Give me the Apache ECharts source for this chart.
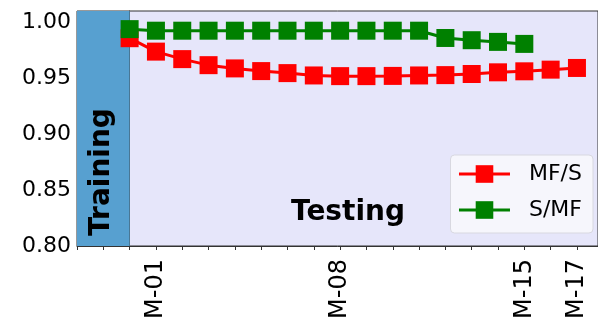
<!DOCTYPE html>
<html>
<head>
<meta charset="utf-8">
<script src="https://cdn.jsdelivr.net/npm/echarts@6/dist/echarts.min.js"></script>
<style>
html, body { margin: 0; padding: 0; background: #fff; }
#chart { width: 598px; height: 333px; }
</style>
</head>
<body>
<div id="chart"></div>
<script>
// month index (0 = end of training), tick labels shown on the x axis
var months = [0, 1, 2, 3, 4, 5, 6, 7, 8, 9, 10, 11, 12, 13, 14, 15, 16, 17];
var labelMonths = { 1: 'M-01', 8: 'M-08', 15: 'M-15', 17: 'M-17' };
var mfS = [0.9857, 0.9737, 0.9670, 0.9616, 0.9587, 0.9563, 0.9545, 0.9524, 0.9518,
	0.9518, 0.9520, 0.9524, 0.9527, 0.9537, 0.9552, 0.9561, 0.9576, 0.9591];
var sMf = [0.9938, 0.9924, 0.9924, 0.9924, 0.9924, 0.9924, 0.9924, 0.9924, 0.9924,
	0.9924, 0.9924, 0.9924, 0.9859, 0.9839, 0.9824, 0.9806];
var trainingSpan = [-2, 0];

function pairs(vals) {
	var out = [];
	for (var i = 0; i < vals.length; i++) out.push([months[i], vals[i]]);
	return out;
}

var font = 'DejaVu Sans';
var chart = echarts.init(document.getElementById('chart'));

chart.setOption({
	animation : false,
	textStyle : { fontFamily : font },
	grid : {
		left : 77,
		top : 11,
		width : 523,
		height : 235,
		show : true,
		backgroundColor : '#e6e6fa',
		borderColor : '#333',
		borderWidth : 1
	},
	xAxis : {
		type : 'value',
		min : -2,
		max : 17.8,
		interval : 1,
		splitLine : { show : false },
		axisLine : { show : true, onZero : false, lineStyle : { color : '#333', width : 1 } },
		axisTick : { show : true, length : 4, lineStyle : { color : '#333' } },
		axisLabel : {
			rotate : 90,
			margin : 13,
			fontSize : 24,
			color : '#000',
			fontFamily : font,
			showMaxLabel : false,
			formatter : function(v) {
				return labelMonths[Math.round(v)] || '';
			}
		}
	},
	yAxis : {
		type : 'value',
		min : 0.80,
		max : 1.01,
		interval : 0.05,
		splitLine : { show : false },
		axisLine : { show : true, lineStyle : { color : '#333', width : 1 } },
		axisTick : { show : true, length : 7, lineStyle : { color : '#333' } },
		axisLabel : {
			fontSize : 22,
			color : '#000',
			margin : 6,
			fontFamily : font,
			showMaxLabel : false,
			formatter : function(v) {
				return v.toFixed(2);
			}
		}
	},
	legend : {
		orient : 'vertical',
		right : 5,
		top : 155,
		itemWidth : 51,
		itemHeight : 22,
		itemGap : 14,
		padding : [ 8, 11, 12, 7 ],
		backgroundColor : 'rgba(248,248,252,0.85)',
		borderColor : '#d8d8e0',
		borderWidth : 1,
		borderRadius : 4,
		lineStyle : { width : 3 },
		textStyle : {
			fontSize : 22,
			color : '#000',
			fontFamily : font,
			lineHeight : 22,
			padding : [ 0, 0, 0, 14 ]
		},
		data : [ 'MF/S', 'S/MF' ]
	},
	series : [ {
		name : 'MF/S',
		type : 'line',
		data : pairs(mfS),
		symbol : 'rect',
		symbolSize : 18,
		lineStyle : { color : '#ff0000', width : 3 },
		itemStyle : { color : '#ff0000' },
		markArea : {
			silent : true,
			itemStyle : { color : '#57a0d0' },
			data : [ [ { xAxis : trainingSpan[0] }, { xAxis : trainingSpan[1] } ] ]
		},
		z : 2
	}, {
		name : 'S/MF',
		type : 'line',
		data : pairs(sMf),
		symbol : 'rect',
		symbolSize : 18,
		lineStyle : { color : '#008000', width : 3 },
		itemStyle : { color : '#008000' },
		z : 3
	} ],
	graphic : [ {
		type : 'text',
		z : 10,
		x : 102,
		y : 172,
		rotation : Math.PI / 2,
		style : {
			text : 'Training',
			font : 'bold 28px "DejaVu Sans"',
			fill : '#000',
			align : 'center',
			verticalAlign : 'middle'
		}
	}, {
		type : 'text',
		z : 10,
		x : 348,
		y : 213,
		style : {
			text : 'Testing',
			font : 'bold 28px "DejaVu Sans"',
			fill : '#000',
			align : 'center',
			verticalAlign : 'middle'
		}
	} ]
});
</script>
</body>
</html>
